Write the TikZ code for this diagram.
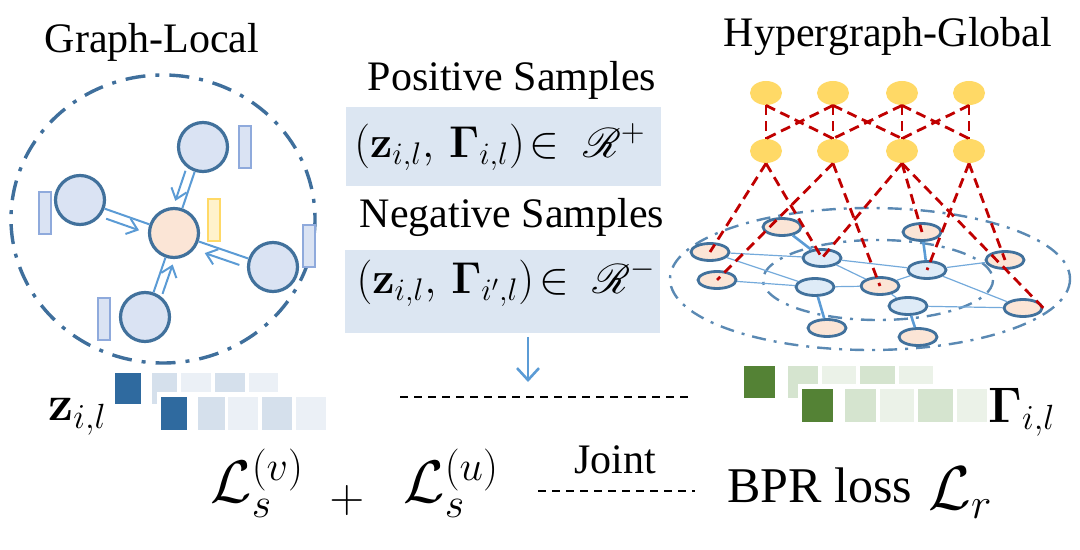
\RequirePackage{fix-cm}
\documentclass[tikz,border=0pt]{standalone}
\usepackage[no-math]{fontspec}
\setmainfont{Liberation Serif}
\usepackage{amsmath}
\usepackage{mathrsfs}
\usetikzlibrary{shapes.geometric,arrows.meta,calc}
\definecolor{circb}{HTML}{3F6F9C}
\definecolor{nodeb}{HTML}{41719C}
\definecolor{nodef}{HTML}{DAE3F3}
\definecolor{peach}{HTML}{FBE5D6}
\definecolor{arrb}{HTML}{5B9BD5}
\definecolor{rectb}{HTML}{8FAADC}
\definecolor{ylwb}{HTML}{FFD966}
\definecolor{ylwf}{HTML}{FFF2CC}
\definecolor{ylw}{HTML}{FFD966}
\definecolor{redc}{HTML}{C00000}
\definecolor{boxf}{HTML}{DCE6F2}
\definecolor{bdark}{HTML}{2F6A9F}
\definecolor{bl1}{HTML}{D5E0EC}
\definecolor{bl2}{HTML}{EBF0F6}
\definecolor{gdark}{HTML}{548235}
\definecolor{gl1}{HTML}{D5E4CF}
\definecolor{gl2}{HTML}{EBF2E8}
\definecolor{hblue}{HTML}{DEEBF7}
\definecolor{hring}{HTML}{5A89B3}
\begin{document}
\begin{tikzpicture}[x=0.5pt,y=-0.5pt,
  txt/.style={font=\fontsize{21}{25}\selectfont, inner sep=0pt},
  gnode/.style={circle, draw=nodeb, line width=1.6pt, fill=nodef, minimum size=24.5pt, inner sep=0pt},
  vrect/.style={rectangle, draw=rectb, fill=nodef, line width=1pt, minimum width=6pt, minimum height=21pt, inner sep=0pt},
  gedge/.style={draw=arrb, line width=1pt},
  garr/.style={draw=arrb, line width=1pt, -{Straight Barb[length=5pt,width=8pt]}},
  hnode/.style={ellipse, draw=nodeb, line width=1.4pt, fill=peach, minimum width=19pt, minimum height=8.5pt, inner sep=0pt},
  hbnode/.style={hnode, fill=hblue},
  hedge/.style={draw=arrb!85, line width=0.6pt},
  hthick/.style={draw=arrb, line width=1.3pt},
  ynode/.style={ellipse, fill=ylw, minimum width=16pt, minimum height=12pt, inner sep=0pt},
  rdash/.style={draw=redc, line width=1.4pt, dash pattern=on 5pt off 3pt},
  sbox/.style={rectangle, fill=boxf, minimum width=157.5pt, inner sep=0pt},
  bdash/.style={draw=black, line width=0.8pt, dash pattern=on 4pt off 3pt},
  cdashdot/.style={draw=circb, line width=1.7pt, dash pattern=on 10pt off 5pt on 2pt off 5pt},
  hdashdot/.style={draw=hring, line width=1.2pt, dash pattern=on 7pt off 4pt on 1.5pt off 4pt},
  mform/.style={inner sep=0pt, font=\fontsize{22.3}{25}\selectfont},
  lform/.style={inner sep=0pt, font=\fontsize{30}{32}\selectfont}
]
\useasboundingbox (0,0) rectangle (1080,550);

% ---------- Graph-Local ----------
\node[txt] (gltitle) at (152,42) {Graph-Local};
\draw[cdashdot] (163,219) ellipse [x radius=152, y radius=144];
\node[gnode] (gt) at (203,147) {};
\node[gnode] (gl) at (80,200) {};
\node[gnode, fill=peach] (gc) at (174,233) {};
\node[gnode] (gr) at (273,267) {};
\node[gnode] (gb) at (145,317) {};
\node[vrect] (rt) at (245,147) {};
\node[vrect] (rl) at (45,213) {};
\node[vrect, draw=ylwb, fill=ylwf] (rc) at (213.5,220) {};
\node[vrect] (rr) at (308.5,246) {};
\node[vrect] (rb) at (103.5,319) {};
\draw[gedge] (gt) -- (gc);
\draw[gedge] (gl) -- (gc);
\draw[gedge] (gr) -- (gc);
\draw[gedge] (gb) -- (gc);
\path ($(gt)!0.31!(gc)$) coordinate (ta1) ($(gt)!0.66!(gc)$) coordinate (ta2);
\path ($(gl)!0.31!(gc)$) coordinate (la1) ($(gl)!0.66!(gc)$) coordinate (la2);
\path ($(gr)!0.31!(gc)$) coordinate (ra1) ($(gr)!0.66!(gc)$) coordinate (ra2);
\path ($(gb)!0.31!(gc)$) coordinate (ba1) ($(gb)!0.66!(gc)$) coordinate (ba2);
\draw[garr] ($(ta1)!4.5pt!-90:(gc)$) -- ($(ta2)!4.5pt!-90:(gc)$);
\draw[garr] ($(la1)!4.5pt!-90:(gc)$) -- ($(la2)!4.5pt!-90:(gc)$);
\draw[garr] ($(ra1)!4.5pt!90:(gc)$) -- ($(ra2)!4.5pt!90:(gc)$);
\draw[garr] ($(ba1)!4.5pt!-90:(gc)$) -- ($(ba2)!4.5pt!-90:(gc)$);

% ---------- embeddings left ----------
\fill[bdark] (115,373) rectangle (141,404);
\fill[bl1] (152,373) rectangle (177,404);
\fill[bl2] (181,373) rectangle (211,392);
\fill[bl1] (215,373) rectangle (245,392);
\fill[bl2] (249,373) rectangle (278,392);
\fill[white] (157,392) rectangle (330,432);
\fill[bdark] (161,397) rectangle (187,430);
\fill[bl1] (198,397) rectangle (225,430);
\fill[bl2] (228,397) rectangle (258,430);
\fill[bl1] (262,397) rectangle (292,430);
\fill[bl2] (296,397) rectangle (326,430);
\node[inner sep=0pt, font=\fontsize{25}{28}\selectfont, anchor=west] (zil) at (48,417) {$\mathbf{z}_{i,l}$};

% ---------- middle ----------
\node[txt] (pstxt) at (512,80) {Positive Samples};
\node[sbox, minimum height=39.5pt] (pbox) at (503.5,147) {};
\node[mform] (pform) at (500,147) {$(\mathbf{z}_{i,l},\,\mathbf{\Gamma}_{i,l})\!\in\ \mathscr{R}^{+}$};
\node[txt] (nstxt) at (512,217) {Negative Samples};
\node[sbox, minimum height=41.5pt] (nbox) at (502.5,291.5) {};
\node[mform] (nform) at (506,283) {$(\mathbf{z}_{i,l},\,\mathbf{\Gamma}_{i',l})\!\in\ \mathscr{R}^{-}$};
\coordinate (arrS) at (528,337);
\coordinate (arrE) at (528,382);
\draw[draw=arrb, line width=1.3pt, -{Straight Barb[length=6pt,width=11pt]}] (arrS) -- (arrE);
\coordinate (d1a) at (400,397);
\coordinate (d1b) at (690,397);
\draw[bdash] (d1a) -- (d1b);
\node[txt] (joint) at (615,460) {Joint};
\coordinate (d2a) at (538,491);
\coordinate (d2b) at (695,491);
\draw[bdash] (d2a) -- (d2b);
\node[lform, anchor=west] (lsv) at (210,483) {$\mathcal{L}_s^{(v)}$};
\node[inner sep=0pt, font=\fontsize{24}{26}\selectfont] (lplus) at (347,500) {$+$};
\node[lform, anchor=west] (lsu) at (403,483) {$\mathcal{L}_s^{(u)}$};
\node[inner sep=0pt, font=\fontsize{25}{28}\selectfont, anchor=base west] (bpr) at (727,502) {BPR loss};
\node[inner sep=0pt, font=\fontsize{31}{34}\selectfont, anchor=base west] (lr) at (928,509) {$\mathcal{L}_r$};

% ---------- Hypergraph-Global ----------
\node[txt] (hgtitle) at (888,36) {Hypergraph-Global};
\draw[hdashdot] (870,279) ellipse [x radius=200, y radius=71];
\draw[hdashdot] (878,280) ellipse [x radius=115, y radius=40];
\node[hnode] (hA) at (710,252) {};
\node[hnode] (hB) at (782,227) {};
\node[hbnode] (hC) at (822,258) {};
\node[hnode] (hD) at (717,280) {};
\node[hbnode] (hE) at (815,287) {};
\node[hnode] (hF) at (880,286) {};
\node[hnode] (hG) at (827,328) {};
\node[hnode] (hH) at (922,232) {};
\node[hbnode] (hI) at (927,270) {};
\node[hnode] (hJ) at (1005,260) {};
\node[hbnode] (hK) at (908,306) {};
\node[hnode] (hL) at (918,337) {};
\node[hnode] (hM) at (1023,308) {};
\draw[hthick] (hB) -- (hC);
\draw[hedge] (hA) -- (hE);
\draw[hedge] (hA) -- (hC);
\draw[hedge] (hD) -- (hE);
\draw[hedge] (hE) -- (hF);
\draw[hthick] (hE) -- (hG);
\draw[hedge] (hC) -- (hF);
\draw[hedge] (hC) -- (hI);
\draw[hedge] (hF) -- (hI);
\draw[hthick] (hI) -- (hH);
\draw[hedge] (hI) -- (hJ);
\draw[hedge] (hI) -- (hM);
\draw[hedge] (hF) -- (hK);
\draw[hthick] (hK) -- (hL);
\draw[hedge] (hK) -- (hM);

\node[ynode] (yt1) at (766,93) {};
\node[ynode] (yt2) at (833,93) {};
\node[ynode] (yt3) at (902,93) {};
\node[ynode] (yt4) at (969,93) {};
\node[ynode] (yb1) at (766,151) {};
\node[ynode] (yb2) at (833,151) {};
\node[ynode] (yb3) at (902,151) {};
\node[ynode] (yb4) at (969,151) {};
\draw[rdash] (yt1.south) -- (yb1.north);
\draw[rdash] (yt2.south) -- (yb2.north);
\draw[rdash] (yt3.south) -- (yb3.north);
\draw[rdash] (yt4.south) -- (yb4.north);
\draw[rdash] (yt1.south) -- (yb2.north);
\draw[rdash] (yt2.south) -- (yb1.north);
\draw[rdash] (yt2.south) -- (yb3.north);
\draw[rdash] (yt3.south) -- (yb2.north);
\draw[rdash] (yt3.south) -- (yb4.north);
\draw[rdash] (yt4.south) -- (yb3.north);
\draw[rdash] (yb1.south) -- (hA.center);
\draw[rdash] (yb1.south) -- (hC.center);
\draw[rdash] (yb2.south) -- (hD.center);
\draw[rdash] (yb2.south) -- (hF.center);
\draw[rdash] (yb3.south) -- (hC.center);
\draw[rdash] (yb3.south) -- (hH.center);
\draw[rdash] (yb3.south) -- (hM.east);
\draw[rdash] (yb4.south) -- (hI.center);
\draw[rdash] (yb4.south) -- (hJ.center);

% ---------- embeddings right ----------
\fill[gdark] (744,366) rectangle (775,398);
\fill[gl1] (788,366) rectangle (818,398);
\fill[gl2] (822,366) rectangle (856,384);
\fill[gl1] (860,366) rectangle (895,384);
\fill[gl2] (899,366) rectangle (933,384);
\fill[white] (798,384) rectangle (990,424);
\fill[gdark] (802,389) rectangle (833,422);
\fill[gl1] (845,389) rectangle (876,422);
\fill[gl2] (880,389) rectangle (914,422);
\fill[gl1] (918,389) rectangle (953,422);
\fill[gl2] (957,389) rectangle (987,422);
\node[inner sep=0pt, font=\fontsize{25}{28}\selectfont, anchor=west] (gam) at (988,412) {$\mathbf{\Gamma}_{i,l}$};
\end{tikzpicture}
\end{document}
